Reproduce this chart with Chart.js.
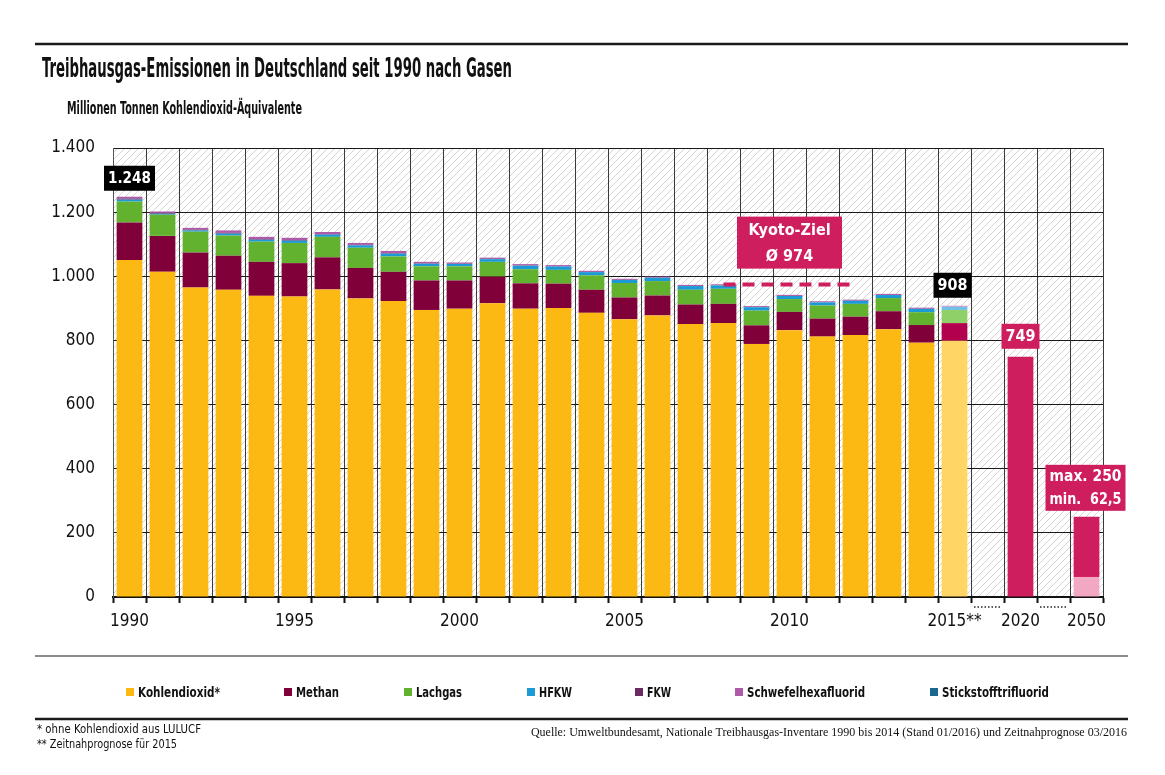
<!DOCTYPE html>
<html>
<head>
<meta charset="utf-8">
<script src="https://cdn.jsdelivr.net/npm/chart.js@4.4.1/dist/chart.umd.min.js"></script>
<style>
  html, body { margin: 0; padding: 0; background: #fff; }
  #wrap { width: 1165px; height: 775px; }
</style>
</head>
<body>
<div id="wrap"><canvas id="myChart"></canvas></div>
<script>
// categories (blank ones are the breaks between 2015, 2020 and 2050)
const years = ['1990','1991','1992','1993','1994','1995','1996','1997','1998','1999',
  '2000','2001','2002','2003','2004','2005','2006','2007','2008','2009',
  '2010','2011','2012','2013','2014','2015','','2020','','2050'];
const tickLabels = ['1990','','','','','1995','','','','',
  '2000','','','','','2005','','','','',
  '2010','','','','','2015**','','2020','','2050'];

// Mio. t CO2-Äquivalente
const co2  = [1051,1014,965,958,939,937,959,931,923,895,899,916,899,901,886,866,878,851,854,789,832,812,817,835,793,799,null,null,null,null];
const ch4  = [117,112,109,106,106,104,100,95,91,92,88,83,79,76,72,68,62,61,60,58,57,56,57,56,55,55,null,null,null,null];
const n2o  = [65,66,65,63,63,63,64,63,48,44,44,46,44,43,45,45,45,46,47,46,40,41,40,41,40,41,null,null,null,null];
const hfkw = [6,3,4,6,6,7,7,7.5,8.5,8,7.5,8.5,11,10.5,10,9.5,10.5,11.5,10.5,10.5,9.5,9.5,9.5,9.5,10.5,9.5,null,null,null,null];
const fkw  = [3,2.5,2.5,2.5,2,2,1.5,1.5,1.5,1,0.8,0.7,0.7,0.7,0.6,0.6,0.5,0.4,0.4,0.3,0.3,0.3,0.3,0.3,0.3,0.3,null,null,null,null];
const sf6  = [6,4.5,5.5,7.5,7,7,6.5,6,7,5,3.7,3.8,4.3,3.8,3.4,2.9,3,3.1,3.1,3.2,3.2,3.2,3.2,3.2,3.2,3.2,null,null,null,null];
const nf3  = [0,0,0,0,0,0,0,0,0,0,0.1,0.1,0.1,0.1,0.1,0.1,0.1,0.1,0.1,0.1,0.1,0.1,0.1,0.1,0.1,0.1,null,null,null,null];

const target2020 = 749;
const target2050Max = 250;
const target2050Min = 62.5;
const kyotoTarget = 974;
const kyotoYears = ['2008','2009','2010','2011','2012'];

const yTicks = [0,200,400,600,800,1000,1200,1400];

const PINK = '#cf1e5e';
const FONT = "'Liberation Sans Narrow', 'DejaVu Sans Condensed', 'Roboto', sans-serif";
const forecastIdx = years.indexOf('2015');

function fmt(v) {
  return String(Math.round(v)).replace(/\B(?=(\d{3})+(?!\d))/g, '.');
}
function colorsFor(normal, forecast) {
  return years.map((y, i) => i === forecastIdx ? forecast : normal);
}
function onlyAt(label, value) {
  return years.map(y => y === label ? value : null);
}

const gases = [
  { label: 'Kohlendioxid*', data: co2, c: '#fdb913', f: '#ffd666' },
  { label: 'Methan', data: ch4, c: '#80003a', f: '#b3004e' },
  { label: 'Lachgas', data: n2o, c: '#62b22f', f: '#8fd068' },
  { label: 'HFKW', data: hfkw, c: '#1b9ad6', f: '#6ec2ea' },
  { label: 'FKW', data: fkw, c: '#6b2a62', f: '#9c6c94' },
  { label: 'Schwefelhexafluorid', data: sf6, c: '#ae5aa8', f: '#cc99cc' },
  { label: 'Stickstofftrifluorid', data: nf3, c: '#1b6790', f: '#5d9ab8' }
];

const datasets = gases.map(g => ({
  label: g.label,
  data: g.data,
  backgroundColor: colorsFor(g.c, g.f),
  stack: 'em',
  order: 1
}));
datasets.push({ label: 'Ziel 2020', data: onlyAt('2020', target2020), backgroundColor: PINK, stack: 'em', order: 1 });
datasets.push({ label: 'Ziel 2050 min', data: onlyAt('2050', target2050Min), backgroundColor: '#f2a7c3', stack: 'em', order: 1 });
datasets.push({ label: 'Ziel 2050 max', data: onlyAt('2050', target2050Max - target2050Min), backgroundColor: PINK, stack: 'em', order: 1 });
datasets.push({
  type: 'line',
  label: 'Kyoto-Ziel',
  data: years.map(y => kyotoYears.includes(y) ? kyotoTarget : null),
  borderColor: PINK,
  borderWidth: 4,
  borderDash: [12, 7],
  borderCapStyle: 'butt',
  pointRadius: 0,
  fill: false,
  stack: 'kyoto',
  order: 0
});

// hatched plot background
const hatch = (function () {
  const n = 7;
  const c = document.createElement('canvas');
  c.width = n; c.height = n;
  const g = c.getContext('2d');
  g.fillStyle = '#ffffff';
  g.fillRect(0, 0, n, n);
  g.strokeStyle = '#cfcfcf';
  g.lineWidth = 0.9;
  g.beginPath();
  g.moveTo(0, n); g.lineTo(n, 0);
  g.moveTo(-1, 1); g.lineTo(1, -1);
  g.moveTo(n - 1, n + 1); g.lineTo(n + 1, n - 1);
  g.stroke();
  return g.createPattern(c, 'repeat');
})();

const backgroundPlugin = {
  id: 'hatchBg',
  beforeDraw(chart) {
    const { ctx, chartArea: a } = chart;
    ctx.save();
    ctx.fillStyle = '#fff';
    ctx.fillRect(0, 0, chart.width, chart.height);
    ctx.fillStyle = hatch;
    ctx.fillRect(a.left, a.top, a.right - a.left, a.bottom - a.top);
    ctx.restore();
  }
};

function box(ctx, cx, bottom, w, h, bg, lines, size) {
  ctx.fillStyle = bg;
  ctx.fillRect(cx - w / 2, bottom - h, w, h);
  ctx.fillStyle = '#fff';
  ctx.font = 'bold ' + size + 'px ' + FONT;
  ctx.textAlign = 'center';
  ctx.textBaseline = 'middle';
  const lh = h / lines.length;
  lines.forEach((t, i) => {
    ctx.fillText(t, cx, bottom - h + lh * (i + 0.5) + 1, w - 8);
  });
}

const labelPlugin = {
  id: 'labels',
  afterDatasetsDraw(chart) {
    const { ctx, scales: { x, y } } = chart;
    ctx.save();
    const total = i => gases.reduce((s, g) => s + (g.data[i] || 0), 0);
    const first = 0;
    box(ctx, x.getPixelForValue(first), y.getPixelForValue(total(first)) - 6, 51, 25, '#000', [fmt(total(first))], 16);
    box(ctx, x.getPixelForValue(forecastIdx) - 2, y.getPixelForValue(total(forecastIdx)) - 8, 38, 25, '#000', [fmt(total(forecastIdx))], 16);
    const i20 = years.indexOf('2020');
    box(ctx, x.getPixelForValue(i20), y.getPixelForValue(target2020) - 8, 38, 25, PINK, [fmt(target2020)], 16);
    const iK = years.indexOf(kyotoYears[2]);
    box(ctx, x.getPixelForValue(iK), y.getPixelForValue(kyotoTarget) - 16, 105, 52, PINK, ['Kyoto-Ziel', 'Ø ' + kyotoTarget], 16);
    const i50 = years.indexOf('2050');
    box(ctx, x.getPixelForValue(i50) - 1, y.getPixelForValue(target2050Max) - 6, 80, 46, PINK,
      ['max. ' + target2050Max, 'min.  ' + String(target2050Min).replace('.', ',')], 16);

    // dotted break marks below blank categories
    const half = (x.right - x.left) / years.length / 2;
    ctx.strokeStyle = '#222';
    ctx.lineWidth = 1.5;
    ctx.setLineDash([1.5, 2]);
    years.forEach((yr, i) => {
      if (yr !== '') return;
      const cx = x.getPixelForValue(i);
      ctx.beginPath();
      ctx.moveTo(cx - half + 3, y.bottom + 10);
      ctx.lineTo(cx + half - 3, y.bottom + 10);
      ctx.stroke();
    });
    ctx.restore();
  }
};

const framePlugin = {
  id: 'frame',
  afterDraw(chart) {
    const ctx = chart.ctx;
    ctx.save();
    ctx.fillStyle = '#111';
    ctx.textAlign = 'left';
    ctx.textBaseline = 'alphabetic';
    ctx.font = 'bold 27px ' + FONT;
    ctx.fillText('Treibhausgas-Emissionen in Deutschland seit 1990 nach Gasen', 42, 77, 470);
    ctx.font = 'bold 17px ' + FONT;
    ctx.fillText('Millionen Tonnen Kohlendioxid-Äquivalente', 67, 114, 235);

    const rule = (yy, w, c) => {
      ctx.strokeStyle = c; ctx.lineWidth = w;
      ctx.beginPath(); ctx.moveTo(35, yy); ctx.lineTo(1128, yy); ctx.stroke();
    };
    rule(44, 2.5, '#1a1a1a');
    rule(656, 1.5, '#666');
    rule(719, 2.5, '#1a1a1a');

    // legend
    const legendX = [126, 284, 404, 527, 635, 735, 930];
    const legendW = [82, 43, 46, 33, 24, 118, 107];
    ctx.font = 'bold 14px ' + FONT;
    gases.forEach((g, i) => {
      ctx.fillStyle = g.c;
      ctx.fillRect(legendX[i], 688, 8, 8);
      ctx.fillStyle = '#111';
      ctx.fillText(g.label, legendX[i] + 12, 697, legendW[i]);
    });

    ctx.font = '12px ' + FONT;
    ctx.fillText('* ohne Kohlendioxid aus LULUCF', 37, 733, 164);
    ctx.fillText('** Zeitnahprognose für 2015', 37, 748, 140);
    ctx.font = "12px 'Liberation Serif', 'DejaVu Serif', serif";
    ctx.textAlign = 'right';
    ctx.fillText('Quelle: Umweltbundesamt, Nationale Treibhausgas-Inventare 1990 bis 2014 (Stand 01/2016) und Zeitnahprognose 03/2016', 1127, 736, 627);
    ctx.restore();
  }
};

Chart.defaults.font.family = FONT;
Chart.defaults.color = '#111';

const config = {
  type: 'bar',
  data: { labels: years, datasets },
  options: {
    responsive: true,
    maintainAspectRatio: false,
    animation: false,
    layout: { padding: { left: 0, right: 62, top: 148, bottom: 138 } },
    datasets: {
      bar: { categoryPercentage: 1, barPercentage: 0.78, borderWidth: 0 }
    },
    plugins: {
      legend: { display: false },
      tooltip: { enabled: false },
      title: { display: false }
    },
    scales: {
      x: {
        stacked: true,
        offset: true,
        grid: { offset: true, color: '#3a3a3a', lineWidth: 1, tickLength: 6, tickColor: '#111', tickWidth: 2 },
        border: { color: '#111', width: 2 },
        ticks: {
          autoSkip: false,
          maxRotation: 0,
          padding: 8,
          font: { size: 17 },
          color: '#111',
          callback: (v, i) => tickLabels[i]
        },
        afterFit: s => { s.height = 40; }
      },
      y: {
        stacked: true,
        min: 0,
        max: 1400,
        afterBuildTicks: s => { s.ticks = yTicks.map(v => ({ value: v })); },
        grid: { color: '#1a1a1a', lineWidth: 1, drawTicks: false },
        border: { color: '#555', width: 1 },
        ticks: {
          padding: 18,
          font: { size: 17 },
          color: '#111',
          callback: v => fmt(v)
        },
        afterFit: s => { s.width = 113; }
      }
    }
  },
  plugins: [backgroundPlugin, labelPlugin, framePlugin]
};

const myChart = new Chart(document.getElementById('myChart'), config);
</script>
</body>
</html>
